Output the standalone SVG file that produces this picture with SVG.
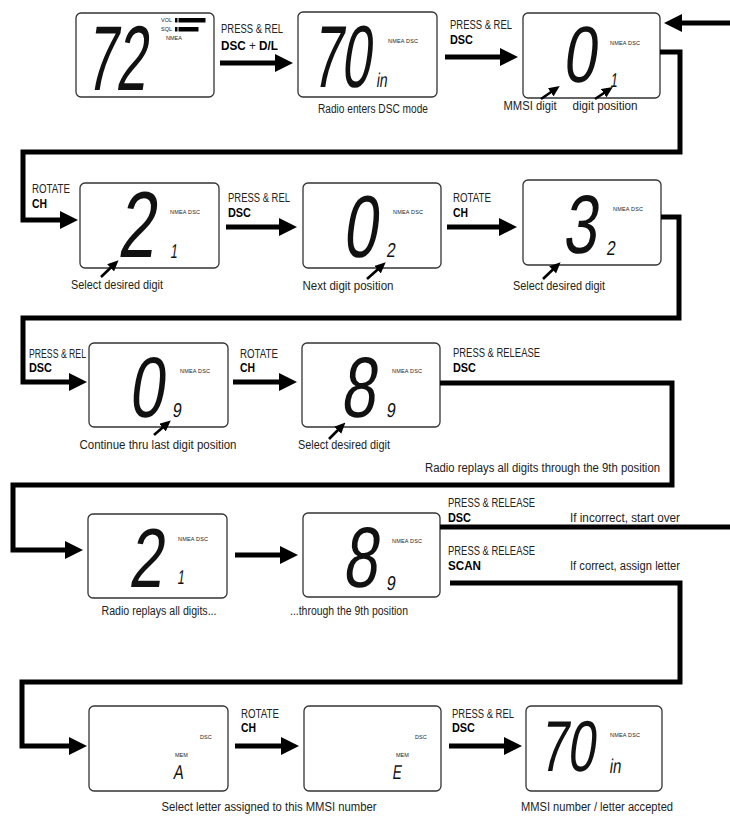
<svg xmlns="http://www.w3.org/2000/svg" width="730" height="819" viewBox="0 0 730 819">
<style>
.lbl{font-family:"Liberation Sans",Arial,sans-serif;font-size:12.5px;fill:#222}
.b{font-weight:bold;fill:#000}
.mid{text-anchor:middle}
.end{text-anchor:end}
.lcd{fill:#fff;stroke:#333;stroke-width:1.3}
.seg{font-family:"Liberation Sans",sans-serif;fill:#111}
.sm{font-family:"Liberation Sans",sans-serif;font-size:20px;fill:#111}
.tiny{font-family:"Liberation Sans",sans-serif;font-size:5.5px;fill:#222}
.conn{fill:none;stroke:#000;stroke-width:5}
.ptr{fill:none;stroke:#000;stroke-width:2.6}
</style>
<defs>
<marker id="ah" markerWidth="18" markerHeight="18" refX="8" refY="9" orient="auto" markerUnits="userSpaceOnUse"><path d="M0,0 L18,9 L0,18 z" fill="#000"/></marker>
<marker id="ph" markerWidth="11" markerHeight="10" refX="4" refY="5" orient="auto" markerUnits="userSpaceOnUse"><path d="M0,0 L11,5 L0,10 z" fill="#000"/></marker>
</defs>

<g id="labels">
<text class="lbl" x="221" y="33" textLength="62" lengthAdjust="spacingAndGlyphs">PRESS &amp; REL</text>
<text class="lbl" x="221" y="50" textLength="57" lengthAdjust="spacingAndGlyphs"><tspan class="b">DSC</tspan> + <tspan class="b">D/L</tspan></text>
<text class="lbl" x="450" y="29" textLength="62" lengthAdjust="spacingAndGlyphs">PRESS &amp; REL</text>
<text class="lbl b" x="450" y="44" textLength="23" lengthAdjust="spacingAndGlyphs">DSC</text>
<text class="lbl mid" x="373" y="113" textLength="110" lengthAdjust="spacingAndGlyphs">Radio enters DSC mode</text>
<text class="lbl mid" x="530" y="110" textLength="53" lengthAdjust="spacingAndGlyphs">MMSI digit</text>
<text class="lbl mid" x="605" y="110" textLength="65" lengthAdjust="spacingAndGlyphs">digit position</text>

<text class="lbl" x="32" y="193" textLength="38" lengthAdjust="spacingAndGlyphs">ROTATE</text>
<text class="lbl b" x="32" y="208" textLength="15" lengthAdjust="spacingAndGlyphs">CH</text>
<text class="lbl" x="228" y="202" textLength="62" lengthAdjust="spacingAndGlyphs">PRESS &amp; REL</text>
<text class="lbl b" x="228" y="217" textLength="23" lengthAdjust="spacingAndGlyphs">DSC</text>
<text class="lbl" x="453" y="202" textLength="38" lengthAdjust="spacingAndGlyphs">ROTATE</text>
<text class="lbl b" x="453" y="217" textLength="15" lengthAdjust="spacingAndGlyphs">CH</text>
<text class="lbl mid" x="117" y="289" textLength="92" lengthAdjust="spacingAndGlyphs">Select desired digit</text>
<text class="lbl mid" x="348" y="290" textLength="91" lengthAdjust="spacingAndGlyphs">Next digit position</text>
<text class="lbl mid" x="559" y="290" textLength="92" lengthAdjust="spacingAndGlyphs">Select desired digit</text>

<text class="lbl" x="29" y="358" textLength="57" lengthAdjust="spacingAndGlyphs">PRESS &amp; REL</text>
<text class="lbl b" x="29" y="372" textLength="23" lengthAdjust="spacingAndGlyphs">DSC</text>
<text class="lbl" x="240" y="358" textLength="38" lengthAdjust="spacingAndGlyphs">ROTATE</text>
<text class="lbl b" x="240" y="372" textLength="15" lengthAdjust="spacingAndGlyphs">CH</text>
<text class="lbl" x="453" y="357" textLength="87" lengthAdjust="spacingAndGlyphs">PRESS &amp; RELEASE</text>
<text class="lbl b" x="453" y="372" textLength="23" lengthAdjust="spacingAndGlyphs">DSC</text>
<text class="lbl mid" x="158" y="449" textLength="157" lengthAdjust="spacingAndGlyphs">Continue thru last digit position</text>
<text class="lbl mid" x="344" y="449" textLength="92" lengthAdjust="spacingAndGlyphs">Select desired digit</text>
<text class="lbl end" x="660" y="472" textLength="235" lengthAdjust="spacingAndGlyphs">Radio replays all digits through the 9th position</text>

<text class="lbl" x="448" y="507" textLength="87" lengthAdjust="spacingAndGlyphs">PRESS &amp; RELEASE</text>
<text class="lbl b" x="448" y="522" textLength="23" lengthAdjust="spacingAndGlyphs">DSC</text>
<text class="lbl" x="570" y="522" textLength="110" lengthAdjust="spacingAndGlyphs">If incorrect, start over</text>
<text class="lbl" x="448" y="555" textLength="87" lengthAdjust="spacingAndGlyphs">PRESS &amp; RELEASE</text>
<text class="lbl b" x="448" y="570" textLength="33" lengthAdjust="spacingAndGlyphs">SCAN</text>
<text class="lbl" x="570" y="570" textLength="110" lengthAdjust="spacingAndGlyphs">If correct, assign letter</text>
<text class="lbl mid" x="159" y="615" textLength="115" lengthAdjust="spacingAndGlyphs">Radio replays all digits...</text>
<text class="lbl mid" x="349" y="615" textLength="118" lengthAdjust="spacingAndGlyphs">...through the 9th position</text>

<text class="lbl" x="241" y="718" textLength="38" lengthAdjust="spacingAndGlyphs">ROTATE</text>
<text class="lbl b" x="241" y="732" textLength="15" lengthAdjust="spacingAndGlyphs">CH</text>
<text class="lbl" x="452" y="718" textLength="62" lengthAdjust="spacingAndGlyphs">PRESS &amp; REL</text>
<text class="lbl b" x="452" y="732" textLength="23" lengthAdjust="spacingAndGlyphs">DSC</text>
<text class="lbl mid" x="269" y="811" textLength="215" lengthAdjust="spacingAndGlyphs">Select letter assigned to this MMSI number</text>
<text class="lbl mid" x="597" y="811" textLength="152" lengthAdjust="spacingAndGlyphs">MMSI number / letter accepted</text>
</g>

<g id="lcd1">
<rect class="lcd" x="76" y="13" width="138" height="84" rx="5"/>
<text class="seg" font-size="92" transform="translate(85,90) skewX(-8) scale(0.59,1)">72</text>
<text class="tiny" x="161" y="22">VOL</text>
<rect x="175" y="18" width="2.5" height="4.5"/><rect x="178.5" y="18" width="27" height="4.5"/>
<text class="tiny" x="161" y="31">SQL</text>
<rect x="175" y="27" width="2.5" height="4.5"/><rect x="178.5" y="27" width="20" height="4.5"/>
<text class="tiny" x="166" y="40">NMEA</text>
</g>

<g id="lcd2">
<rect class="lcd" x="298" y="12" width="139" height="85" rx="5"/>
<text class="seg" font-size="88" transform="translate(311,87) skewX(-8) scale(0.6,1)">70</text>
<text class="sm" transform="translate(376,87) skewX(-8) scale(0.7,1)">in</text>
<text class="tiny" x="388" y="43" textLength="30" lengthAdjust="spacing">NMEA DSC</text>
</g>

<g id="lcd3">
<rect class="lcd" x="523" y="13" width="137" height="85" rx="5"/>
<text class="seg" font-size="80" transform="translate(562,82) skewX(-8) scale(0.75,1)">0</text>
<text class="sm" transform="translate(610,87) skewX(-8) scale(0.63,1)">1</text>
<text class="tiny" x="610" y="45" textLength="30" lengthAdjust="spacing">NMEA DSC</text>
</g>

<g id="lcd4">
<rect class="lcd" x="80" y="183" width="139" height="85" rx="5"/>
<text class="seg" font-size="94" transform="translate(117,257) skewX(-8) scale(0.71,1)">2</text>
<text class="sm" transform="translate(170,258) skewX(-8) scale(0.63,1)">1</text>
<text class="tiny" x="170" y="214" textLength="30" lengthAdjust="spacing">NMEA DSC</text>
</g>

<g id="lcd5">
<rect class="lcd" x="303" y="183" width="138" height="85" rx="5"/>
<text class="seg" font-size="88" transform="translate(342,257) skewX(-8) scale(0.7,1)">0</text>
<text class="sm" transform="translate(386,257) skewX(-8) scale(0.8,1)">2</text>
<text class="tiny" x="393" y="214" textLength="30" lengthAdjust="spacing">NMEA DSC</text>
</g>

<g id="lcd6">
<rect class="lcd" x="523" y="180" width="138" height="85" rx="5"/>
<text class="seg" font-size="83" transform="translate(562,253) skewX(-8) scale(0.74,1)">3</text>
<text class="sm" transform="translate(606,255) skewX(-8) scale(0.8,1)">2</text>
<text class="tiny" x="613" y="211" textLength="30" lengthAdjust="spacing">NMEA DSC</text>
</g>

<g id="lcd7">
<rect class="lcd" x="89" y="343" width="139" height="84" rx="5"/>
<text class="seg" font-size="86" transform="translate(128,417) skewX(-8) scale(0.73,1)">0</text>
<text class="sm" transform="translate(172,417) skewX(-8) scale(0.8,1)">9</text>
<text class="tiny" x="180" y="373" textLength="30" lengthAdjust="spacing">NMEA DSC</text>
</g>

<g id="lcd8">
<rect class="lcd" x="302" y="343" width="138" height="84" rx="5"/>
<text class="seg" font-size="86" transform="translate(340,417) skewX(-8) scale(0.73,1)">8</text>
<text class="sm" transform="translate(386,417) skewX(-8) scale(0.8,1)">9</text>
<text class="tiny" x="392" y="373" textLength="30" lengthAdjust="spacing">NMEA DSC</text>
</g>

<g id="lcd9">
<rect class="lcd" x="88" y="514" width="139" height="84" rx="5"/>
<text class="seg" font-size="84" transform="translate(128,587) skewX(-8) scale(0.73,1)">2</text>
<text class="sm" transform="translate(177,584) skewX(-8) scale(0.63,1)">1</text>
<text class="tiny" x="178" y="541" textLength="30" lengthAdjust="spacing">NMEA DSC</text>
</g>

<g id="lcd10">
<rect class="lcd" x="303" y="513" width="137" height="84" rx="5"/>
<text class="seg" font-size="86" transform="translate(342,587) skewX(-8) scale(0.73,1)">8</text>
<text class="sm" transform="translate(386,590) skewX(-8) scale(0.8,1)">9</text>
<text class="tiny" x="392" y="543" textLength="30" lengthAdjust="spacing">NMEA DSC</text>
</g>

<g id="lcd11">
<rect class="lcd" x="89" y="706" width="139" height="85" rx="5"/>
<text class="tiny" x="200" y="739">DSC</text>
<text class="tiny" x="175" y="757">MEM</text>
<text class="sm" font-size="18" transform="translate(173,779) skewX(-8) scale(0.75,1)">A</text>
</g>

<g id="lcd12">
<rect class="lcd" x="304" y="706" width="137" height="85" rx="5"/>
<text class="tiny" x="415" y="739">DSC</text>
<text class="tiny" x="396" y="757">MEM</text>
<text class="sm" font-size="18" transform="translate(392,779) skewX(-8) scale(0.67,1)">E</text>
</g>

<g id="lcd13">
<rect class="lcd" x="526" y="706" width="136" height="85" rx="5"/>
<text class="seg" font-size="72" transform="translate(539,771) skewX(-8) scale(0.69,1)">70</text>
<text class="sm" font-size="17" transform="translate(609,773) skewX(-8) scale(0.75,1)">in</text>
<text class="tiny" x="610" y="737" textLength="30" lengthAdjust="spacing">NMEA DSC</text>
</g>

<g id="connectors">
<path class="conn" d="M220,63 H283" marker-end="url(#ah)"/>
<path class="conn" d="M445,57 H508" marker-end="url(#ah)"/>
<path class="conn" d="M730,23 H674" marker-end="url(#ah)"/>
<path class="conn" d="M660,52 H680 V152 H23 V220 H68" marker-end="url(#ah)"/>
<path class="conn" d="M226,227 H287" marker-end="url(#ah)"/>
<path class="conn" d="M447,227 H507" marker-end="url(#ah)"/>
<path class="conn" d="M661,217 H679 V318 H23 V382 H77" marker-end="url(#ah)"/>
<path class="conn" d="M233,382 H287" marker-end="url(#ah)"/>
<path class="conn" d="M440,383 H672 V485 H13 V550 H73" marker-end="url(#ah)"/>
<path class="conn" d="M235,555 H288" marker-end="url(#ah)"/>
<path class="conn" d="M440,527 H730"/>
<path class="conn" d="M450,583 H680 V682 H22 V746 H77" marker-end="url(#ah)"/>
<path class="conn" d="M235,746 H289" marker-end="url(#ah)"/>
<path class="conn" d="M449,746 H512" marker-end="url(#ah)"/>
<path class="ptr" d="M541,99 L554,90" marker-end="url(#ph)"/>
<path class="ptr" d="M595,99 L607,91" marker-end="url(#ph)"/>
<path class="ptr" d="M101,277 L113.5,265" marker-end="url(#ph)"/>
<path class="ptr" d="M367,279 L380.5,267" marker-end="url(#ph)"/>
<path class="ptr" d="M543,279 L555.5,267" marker-end="url(#ph)"/>
<path class="ptr" d="M154,435 L165.5,425" marker-end="url(#ph)"/>
<path class="ptr" d="M329,439 L340.5,427.5" marker-end="url(#ph)"/>
</g>
</svg>
